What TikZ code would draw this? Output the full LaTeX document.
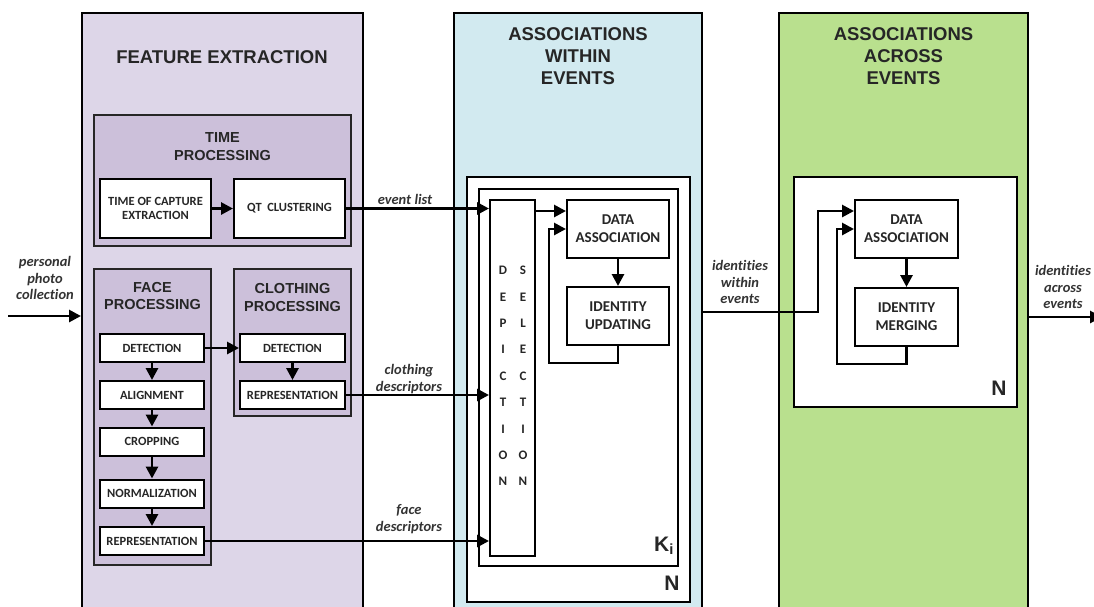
\documentclass[tikz,border=0pt]{standalone}
\usepackage{fontspec}
\setmainfont{Liberation Sans}
\newfontfamily\cb[Ligatures=NoCommon]{Carlito}
\usetikzlibrary{arrows.meta}
\definecolor{feC}{RGB}{221,214,232}
\definecolor{subC}{RGB}{204,192,218}
\definecolor{weC}{RGB}{210,234,240}
\definecolor{aeC}{RGB}{185,224,142}
\begin{document}
\begin{tikzpicture}[x=1pt,y=-1pt,line join=miter,
  panel/.style={draw=black,line width=2pt,inner sep=0pt},
  sub/.style={draw=black!85,line width=2.2pt,fill=subC,inner sep=0pt},
  frame/.style={draw=black,line width=2.2pt,fill=white,inner sep=0pt},
  box/.style={draw=black,line width=2pt,fill=white,inner sep=0pt,align=center,
    font=\cb\bfseries\fontsize{12.5}{13.5}\selectfont,text=black!85},
  bigbox/.style={box,font=\cb\bfseries\fontsize{15}{18}\selectfont},
  arr/.style={line width=2.8pt,-{Triangle[length=12pt,width=12pt]}},
  ttl/.style={font=\bfseries\fontsize{18.5}{22}\selectfont,align=center,text=black!85},
  stl/.style={font=\bfseries\fontsize{14.5}{17.5}\selectfont,align=center,text=black!85},
  lbl/.style={font=\cb\bfseries\itshape\fontsize{14.5}{16.5}\selectfont,align=center,text=black!80},
  letters/.style={font=\cb\bfseries\fontsize{13}{26.4}\selectfont,align=center,text=black!85},
  bigl/.style={font=\bfseries\fontsize{21}{22}\selectfont,text=black!85}]
\useasboundingbox (0,0) rectangle (1094,606);
% panels
\node[panel,fill=feC,minimum width=281pt,minimum height=600pt] (fe) at (222.5,313) {};
\node[panel,fill=weC,minimum width=248pt,minimum height=600pt] (we) at (578,313) {};
\node[panel,fill=aeC,minimum width=249pt,minimum height=600pt] (ae) at (903.5,313) {};
\node[ttl] (feT) at (222,57) {FEATURE EXTRACTION};
\node[ttl] (weT) at (578,56) {ASSOCIATIONS\\WITHIN\\EVENTS};
\node[ttl] (aeT) at (903.5,56) {ASSOCIATIONS\\ACROSS\\EVENTS};
% feature extraction
\node[sub,minimum width=257pt,minimum height=131pt] (time) at (222.5,180.5) {};
\node[stl] (timeT) at (222.5,146.5) {TIME\\PROCESSING};
\node[box,minimum width=111pt,minimum height=59pt] (tce) at (155.5,208.5) {TIME OF CAPTURE\\EXTRACTION};
\node[box,minimum width=111pt,minimum height=59pt] (qt) at (289.5,208.5) {QT\ \ CLUSTERING};
\node[sub,minimum width=117pt,minimum height=296pt] (face) at (152.5,417) {};
\node[stl] (faceT) at (152.5,296) {FACE\\PROCESSING};
\node[sub,minimum width=117pt,minimum height=147pt] (cloth) at (292.5,342.5) {};
\node[stl] (clothT) at (292.5,297.5) {CLOTHING\\PROCESSING};
\node[box,minimum width=104pt,minimum height=28pt] (fdet) at (152,348) {DETECTION};
\node[box,minimum width=104pt,minimum height=28pt] (fali) at (152,395) {ALIGNMENT};
\node[box,minimum width=104pt,minimum height=28pt] (fcro) at (152,441.5) {CROPPING};
\node[box,minimum width=104pt,minimum height=28pt] (fnor) at (152,493.5) {NORMALIZATION};
\node[box,minimum width=104pt,minimum height=28pt] (frep) at (152,541) {REPRESENTATION};
\node[box,minimum width=105pt,minimum height=28pt] (cdet) at (292.5,348) {DETECTION};
\node[box,minimum width=105pt,minimum height=28pt] (crep) at (292.5,395) {REPRESENTATION};
% within events
\node[frame,minimum width=223pt,minimum height=425pt] (wN) at (578.5,389.5) {};
\node[frame,minimum width=199pt,minimum height=377pt] (wK) at (578.5,377.5) {};
\node[box,minimum width=45pt,minimum height=356pt] (dep) at (512.5,378) {};
\node[letters] (depL) at (503,376) {D\\E\\P\\I\\C\\T\\I\\O\\N};
\node[letters] (selL) at (523,376) {S\\E\\L\\E\\C\\T\\I\\O\\N};
\node[bigbox,minimum width=102pt,minimum height=58pt] (da1) at (618,229) {DATA\\ASSOCIATION};
\node[bigbox,minimum width=102pt,minimum height=58pt] (iu) at (618,316) {IDENTITY\\UPDATING};
\node[bigl] (Ki) at (664,546) {K\textsubscript{i}};
\node[bigl] (wNl) at (672,583) {N};
% across events
\node[frame,minimum width=223pt,minimum height=230pt] (aN) at (905.5,292) {};
\node[bigbox,minimum width=103pt,minimum height=58pt] (da2) at (906.5,229) {DATA\\ASSOCIATION};
\node[bigbox,minimum width=103pt,minimum height=58pt] (im) at (906.5,317) {IDENTITY\\MERGING};
\node[bigl] (aNl) at (999,388) {N};
% labels
\node[lbl] (lPin) at (45,278) {personal\\photo\\collection};
\node[lbl] (lEv) at (405,199) {event list};
\node[lbl] (lCl) at (409,379) {clothing\\descriptors};
\node[lbl] (lFa) at (409,519) {face\\descriptors};
\node[lbl] (lIw) at (740,282) {identities\\within\\events};
\node[lbl] (lIa) at (1063,287) {identities\\across\\events};
% connectors
\coordinate (pin) at (8,316);
\draw[arr] (pin) -- (pin -| fe.west);
\draw[arr] (tce.east) -- (qt.west);
\draw[arr] (fdet.east) -- (cdet.west);
\draw[arr] (fdet.south) -- (fali.north);
\draw[arr] (fali.south) -- (fcro.north);
\draw[arr] (fcro.south) -- (fnor.north);
\draw[arr] (fnor.south) -- (frep.north);
\draw[arr] (cdet.south) -- (crep.north);
\draw[arr] (qt.east) -- (qt.east -| dep.west);
\draw[arr] (crep.east) -- (crep.east -| dep.west);
\draw[arr] (frep.east) -- (frep.east -| dep.west);
\draw[arr] ([yshift=-12pt]dep.north east) -- ([yshift=-12pt]dep.north east -| da1.west);
\draw[arr] (da1.south) -- (iu.north);
\coordinate (fb1) at (549,363);
\draw[arr] (iu.south) |- (fb1) |- (da1.west);
\coordinate (iw) at (818,312);
\draw[arr] (we.east |- iw) -- (iw) |- ([yshift=-12pt]da2.north west);
\draw[arr] (da2.south) -- (im.north);
\coordinate (fb2) at (837,364);
\draw[arr] (im.south) |- (fb2) |- (da2.west);
\coordinate (pout) at (1102,317);
\draw[arr] (ae.east |- pout) -- (pout);
\end{tikzpicture}
\end{document}
